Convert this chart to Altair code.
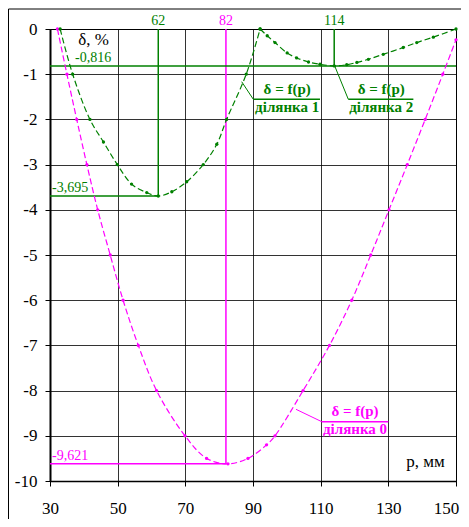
import altair as alt
import pandas as pd

# ---- curve data ----
# ділянка 0 (magenta)
mag_p = [32.2, 35.0, 37.9, 40.9, 44.1, 47.8, 51.6, 56.1, 61.5, 69.9, 76.3, 82.6, 88.5, 94.0, 96.5, 104.8, 112.6, 119.2, 124.8, 130.2, 135.6, 140.9, 146.1, 150.0]
mag_d = [0.0, -1.0, -2.0, -3.0, -4.0, -5.0, -6.0, -7.0, -8.0, -9.0, -9.5, -9.621, -9.5, -9.2, -9.0, -8.0, -7.0, -6.0, -5.0, -4.0, -3.0, -2.0, -1.0, -0.24]
# ділянка 1 (green)
g1_p = [33.0, 36.7, 41.8, 45.8, 49.9, 54.1, 58.6, 62.0, 66.0, 70.4, 75.3, 79.3, 82.2, 88.0, 92.1]
g1_d = [0.0, -1.0, -2.0, -2.5, -3.0, -3.43, -3.62, -3.695, -3.6, -3.38, -3.0, -2.55, -2.0, -1.0, 0.0]
# ділянка 2 (green)
g2_p = [92.1, 94.2, 96.5, 100.1, 102.9, 106.4, 109.8, 114.0, 117.7, 120.7, 124.1, 128.5, 134.4, 138.4, 143.3, 150.0]
g2_d = [0.0, -0.15, -0.30, -0.53, -0.64, -0.73, -0.78, -0.816, -0.79, -0.74, -0.67, -0.56, -0.41, -0.30, -0.18, 0.0]

# extremum reference values
ext_p = [62, 82, 114]
ext_d = [-3.695, -9.621, -0.816]
ext_lbl_p = ["62", "82", "114"]
ext_lbl_d = ["-3,695", "-9,621", "-0,816"]
ext_color = ["#008000", "#FF00FF", "#008000"]
ext_hline_end = [62, 82, 150]
ext_lbl_x = [30.6, 30.6, 37.4]

x_ticks = [30, 50, 70, 90, 110, 130, 150]
y_ticks = list(range(-10, 1))

GREEN = "#008000"
MAG = "#FF00FF"
SERIF = "Liberation Serif, Times New Roman, serif"

xs = alt.Scale(domain=[30, 150], nice=False, zero=False)
ys = alt.Scale(domain=[-10, 0], nice=False, zero=False)

x_axis = alt.Axis(values=x_ticks, grid=True, title=None, tickSize=5, labelPadding=14,
                  labelFontSize=17, labelFont=SERIF, labelColor="black", domainColor="black",
                  domainWidth=1.5, tickColor="black", gridColor="black", gridOpacity=0.8,
                  labelFlush=False, labelExpr="'' + datum.value",
                  labelOffset={"condition": {"test": "datum.value == 150", "value": -10}, "value": 0})
y_axis = alt.Axis(values=y_ticks, grid=True, title=None, tickSize=5, labelPadding=8,
                  labelFontSize=17, labelFont=SERIF, labelColor="black", domainColor="black",
                  domainWidth=2, tickColor="black", gridColor="black", gridOpacity=0.8,
                  labelExpr="'' + datum.value")


def X(f):
    return alt.X(f, scale=xs, axis=x_axis)


def Y(f):
    return alt.Y(f, scale=ys, axis=y_axis)


def curve(ps, ds, color):
    df = pd.DataFrame({"p": ps, "d": ds})
    base = alt.Chart(df).encode(x=X("p:Q"), y=Y("d:Q"))
    line = base.mark_line(color=color, strokeWidth=1.2, strokeDash=[6, 3], interpolate="catmull-rom")
    pts = base.mark_point(color=color, filled=True, size=11, opacity=1)
    return line + pts


# reference lines
ref = pd.DataFrame({"p": ext_p, "d": ext_d, "c": ext_color, "pend": ext_hline_end,
                    "lp": ext_lbl_p, "ld": ext_lbl_d, "lx": ext_lbl_x, "zero": [0, 0, 0], "left": [30, 30, 30]})
cscale = alt.Scale(domain=[GREEN, MAG], range=[GREEN, MAG])
C = alt.Color("c:N", scale=cscale, legend=None)
vrules = alt.Chart(ref).mark_rule(strokeWidth=1.5).encode(x=X("p:Q"), y=Y("zero:Q"), y2="d:Q", color=C)
hrules = alt.Chart(ref).mark_rule(strokeWidth=1.5).encode(x=X("left:Q"), x2="pend:Q", y=Y("d:Q"), color=C)
top_lbl = alt.Chart(ref).mark_text(font=SERIF, fontSize=14, baseline="alphabetic", align="center", dy=-4).encode(
    x=X("p:Q"), y=Y("zero:Q"), text="lp:N", color=C)
val_lbl = alt.Chart(ref).mark_text(font=SERIF, fontSize=14, baseline="alphabetic", align="left", dy=-4).encode(
    x=X("lx:Q"), y=Y("d:Q"), text="ld:N", color=C)

# axis title texts inside the plot
tit = pd.DataFrame({"p": [42.9, 141.0], "d": [-0.354, -9.69], "t": ["δ, %", "p, мм"]})
titles = alt.Chart(tit).mark_text(font=SERIF, fontSize=17, color="black", baseline="alphabetic", align="center").encode(
    x=X("p:Q"), y=Y("d:Q"), text="t:N")

# callouts: leader start (on curve), elbow, bar end, text centre
co_sp = [86.66, 114.03, 102.71]
co_sd = [-1.166, -0.796, -8.414]
co_ep = [90.09, 118.17, 110.3]
co_ed = [-1.555, -1.555, -8.687]
co_bar_end = [109.8, 137.4, 130.0]
co_tp = [100.1, 127.9, 120.15]
co_name = ["ділянка 1", "ділянка 2", "ділянка 0"]
co_color = [GREEN, GREEN, MAG]
co = pd.DataFrame({"sp": co_sp, "sd": co_sd, "ep": co_ep, "ed": co_ed, "be": co_bar_end,
                   "tp": co_tp, "n": co_name, "c": co_color, "f": ["δ = f(p)"] * 3})
leader = alt.Chart(co).mark_rule(strokeWidth=1).encode(x=X("sp:Q"), y=Y("sd:Q"), x2="ep:Q", y2="ed:Q", color=C)
bar = alt.Chart(co).mark_rule(strokeWidth=1.5).encode(x=X("ep:Q"), x2="be:Q", y=Y("ed:Q"), color=C)
co_t1 = alt.Chart(co).mark_text(font=SERIF, fontSize=15, fontWeight="bold", baseline="alphabetic", align="center", dy=-5.5).encode(
    x=X("tp:Q"), y=Y("ed:Q"), text="f:N", color=C)
co_t2 = alt.Chart(co).mark_text(font=SERIF, fontSize=15, fontWeight="bold", baseline="alphabetic", align="center", dy=12.5).encode(
    x=X("tp:Q"), y=Y("ed:Q"), text="n:N", color=C)

frame = alt.Chart(pd.DataFrame({"a": [0]})).mark_rect(fillOpacity=0, stroke="black", strokeWidth=1).encode(
    x=alt.value(-41.5), x2=alt.value(600), y=alt.value(-20), y2=alt.value(700))

chart = alt.layer(
    frame,
    vrules, hrules,
    curve(mag_p, mag_d, MAG), curve(g1_p, g1_d, GREEN), curve(g2_p, g2_d, GREEN),
    leader, bar, co_t1, co_t2,
    top_lbl, val_lbl, titles,
).properties(
    width=406, height=452,
    autosize=alt.AutoSizeParams(type="none"),
    padding={"left": 42, "top": 21, "right": 5, "bottom": 38},
    background="white",
).configure_view(stroke="black", strokeWidth=1)

chart.save("out.html", embed_options={"renderer": "svg", "actions": False})
